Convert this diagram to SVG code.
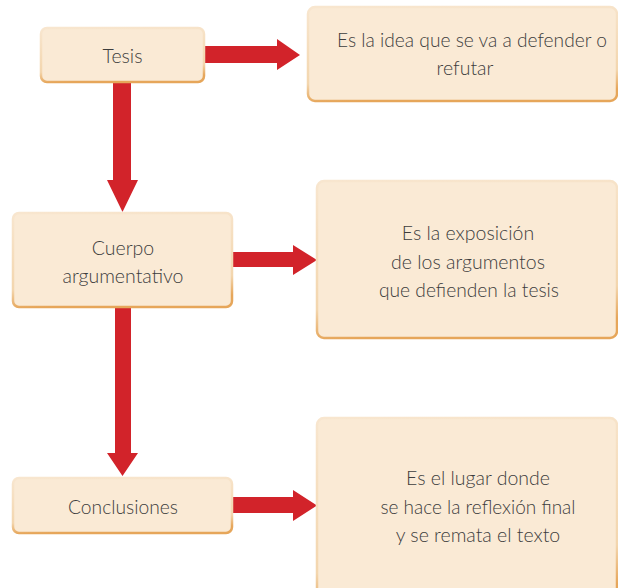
<svg xmlns="http://www.w3.org/2000/svg" width="618" height="588" viewBox="0 0 618 588">
<defs>
<linearGradient id="edge" x1="0" y1="0" x2="0.15" y2="1">
<stop offset="0" stop-color="#F8E6CF"/>
<stop offset="0.8" stop-color="#F3D6AE"/>
<stop offset="1" stop-color="#E6A65A"/>
</linearGradient>
<style>
.box{fill:#FAEAD5;stroke:url(#edge);stroke-width:2.5}
.arr{fill:#D2232A}
text{font-family:Lato,"Open Sans","Liberation Sans",sans-serif;font-size:19.5px;font-weight:300;fill:#3d3d3d;text-anchor:middle}
</style>
</defs>
<rect width="618" height="588" fill="#ffffff"/>
<g id="connectors">
<path class="arr" d="M204,46 H277 V39 L300,55 L277,70 V63 H204 Z"/>
<path class="arr" d="M113,82 V180 H107 L122.5,212 L138,180 H131 V82 Z"/>
<path class="arr" d="M232,252 H293 V245 L317,260 L293,275 V267 H232 Z"/>
<path class="arr" d="M115,307 V453 H107 L122.5,476 L138,453 H131 V307 Z"/>
<path class="arr" d="M232,497 H293 V490 L317,505.5 L293,521 V513 H232 Z"/>
</g>
<g id="n-tesis">
<rect class="box" x="41" y="28" width="163" height="54" rx="6"/>
<text x="122.5" y="63">Tesis</text>
</g>
<g id="n-tesis-def">
<rect class="box" x="308" y="7" width="309" height="94" rx="7"/>
<text x="472" y="47" textLength="270" lengthAdjust="spacingAndGlyphs">Es la idea que se va a defender o</text>
<text x="465" y="75">refutar</text>
</g>
<g id="n-cuerpo">
<rect class="box" x="13" y="213" width="219" height="94" rx="6"/>
<text x="123" y="255">Cuerpo</text>
<text x="123" y="283">argumentativo</text>
</g>
<g id="n-cuerpo-def">
<rect class="box" x="317" y="181" width="300" height="157" rx="7"/>
<text x="468" y="240">Es la exposición</text>
<text x="468" y="269">de los argumentos</text>
<text x="469" y="297" textLength="180" lengthAdjust="spacingAndGlyphs">que defienden la tesis</text>
</g>
<g id="n-concl">
<rect class="box" x="13" y="478" width="219" height="55" rx="6"/>
<text x="123" y="514" textLength="110" lengthAdjust="spacingAndGlyphs">Conclusiones</text>
</g>
<g id="n-concl-def">
<rect class="box" x="317" y="418" width="300" height="190" rx="7"/>
<text x="478" y="485">Es el lugar donde</text>
<text x="478" y="514" textLength="195" lengthAdjust="spacingAndGlyphs">se hace la reflexión final</text>
<text x="478" y="542">y se remata el texto</text>
</g>
</svg>
